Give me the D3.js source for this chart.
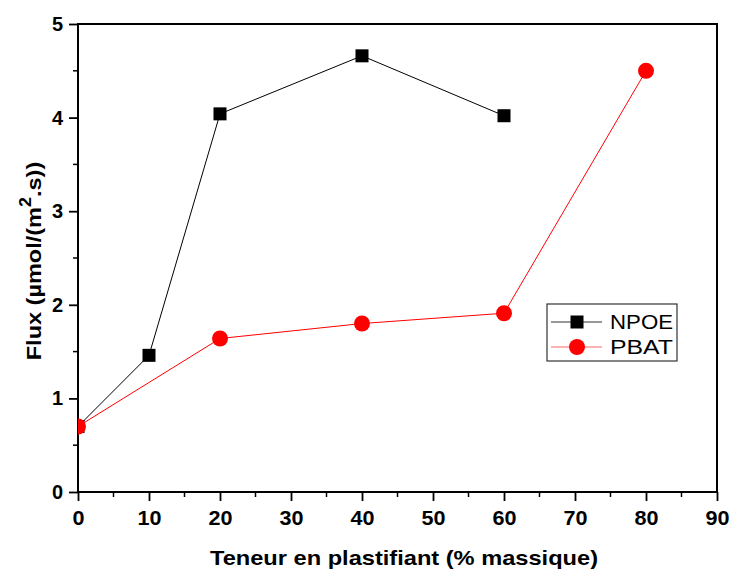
<!DOCTYPE html>
<html lang="fr">
<head>
<meta charset="UTF-8">
<title>Flux vs teneur en plastifiant</title>
<script src="https://d3js.org/d3.v7.min.js"></script>
<style>
  body { margin: 0; background: #fff; }
  svg { font-family: "Liberation Sans", Arial, sans-serif; }
  .domain { display: none; }
</style>
</head>
<body>
<svg id="chart" width="730" height="569"></svg>
<script>
  // Data
  const npoeX = [0, 10, 20, 40, 60];
  const npoeY = [0.70, 1.46, 4.04, 4.66, 4.02];
  const pbatX = [0, 20, 40, 60, 80];
  const pbatY = [0.70, 1.64, 1.80, 1.91, 4.50];
  const xTicks = [0, 10, 20, 30, 40, 50, 60, 70, 80, 90];
  const yTicks = [0, 1, 2, 3, 4, 5];

  const margin = { top: 24, right: 13, bottom: 77, left: 78 };
  const width = 730, height = 569;
  const svg = d3.select("#chart");

  const x = d3.scaleLinear().domain([0, 90]).range([margin.left, width - margin.right]);
  const y = d3.scaleLinear().domain([0, 5]).range([height - margin.bottom, margin.top]);

  svg.append("defs").append("clipPath").attr("id", "plot-clip")
    .append("rect")
    .attr("x", x(0)).attr("y", y(5))
    .attr("width", x(90) - x(0)).attr("height", y(0) - y(5));

  // minor ticks
  const xMinor = d3.range(5, 90, 10);
  const yMinor = d3.range(0.5, 5, 1);
  svg.append("g").selectAll("line").data(xMinor).join("line")
    .attr("x1", d => x(d)).attr("x2", d => x(d))
    .attr("y1", y(0)).attr("y2", y(0) + 5)
    .attr("stroke", "#000").attr("stroke-width", 1.5);
  svg.append("g").selectAll("line").data(yMinor).join("line")
    .attr("x1", x(0) - 5).attr("x2", x(0))
    .attr("y1", d => y(d)).attr("y2", d => y(d))
    .attr("stroke", "#000").attr("stroke-width", 1.5);

  // axes
  const xAxis = svg.append("g")
    .attr("transform", `translate(0,${y(0)})`)
    .call(d3.axisBottom(x).tickValues(xTicks).tickFormat(d3.format("d")).tickSize(9).tickPadding(10));
  xAxis.selectAll(".tick line").attr("stroke-width", 1.8);
  xAxis.selectAll(".tick text").attr("font-size", 20).attr("font-weight", "bold").attr("fill", "#000")
    .attr("transform", "scale(1.08,1)");

  const yAxis = svg.append("g")
    .attr("transform", `translate(${x(0)},0)`)
    .call(d3.axisLeft(y).tickValues(yTicks).tickFormat(d3.format("d")).tickSize(9).tickPadding(6));
  yAxis.selectAll(".tick line").attr("stroke-width", 1.8);
  yAxis.selectAll(".tick text").attr("font-size", 20).attr("font-weight", "bold").attr("fill", "#000");

  // frame
  svg.append("rect")
    .attr("x", x(0)).attr("y", y(5))
    .attr("width", x(90) - x(0)).attr("height", y(0) - y(5))
    .attr("fill", "none").attr("stroke", "#000").attr("stroke-width", 2);

  const plot = svg.append("g").attr("clip-path", "url(#plot-clip)");
  const line = d3.line().x(d => x(d[0])).y(d => y(d[1]));

  const npoe = npoeX.map((v, i) => [v, npoeY[i]]);
  const pbat = pbatX.map((v, i) => [v, pbatY[i]]);

  plot.append("path").datum(npoe).attr("d", line)
    .attr("fill", "none").attr("stroke", "#000").attr("stroke-width", 1);
  plot.selectAll("rect.npoe").data(npoe).join("rect")
    .attr("class", "npoe")
    .attr("x", d => x(d[0]) - 6.5).attr("y", d => y(d[1]) - 6.5)
    .attr("width", 13).attr("height", 13).attr("fill", "#000");

  plot.append("path").datum(pbat).attr("d", line)
    .attr("fill", "none").attr("stroke", "#ff0000").attr("stroke-width", 1);
  plot.selectAll("circle.pbat").data(pbat).join("circle")
    .attr("class", "pbat")
    .attr("cx", d => x(d[0])).attr("cy", d => y(d[1]))
    .attr("r", 8).attr("fill", "#ff0000");

  // legend
  const legend = svg.append("g").attr("transform", "translate(547,304)");
  legend.append("rect").attr("width", 130).attr("height", 57)
    .attr("fill", "#fff").attr("stroke", "#333").attr("stroke-width", 1.2);
  const items = [
    { name: "NPOE", color: "#000", shape: "square", dy: 18 },
    { name: "PBAT", color: "#ff0000", shape: "circle", dy: 43 }
  ];
  items.forEach(it => {
    const g = legend.append("g").attr("transform", `translate(0,${it.dy})`);
    g.append("line").attr("x1", 4).attr("x2", 55).attr("y1", 0).attr("y2", 0)
      .attr("stroke", it.color).attr("stroke-width", 1).attr("opacity", it.shape === "circle" ? 0.6 : 0.8);
    if (it.shape === "square") {
      g.append("rect").attr("x", 23.5).attr("y", -6.5).attr("width", 13).attr("height", 13).attr("fill", it.color);
    } else {
      g.append("circle").attr("cx", 30).attr("cy", 0).attr("r", 8).attr("fill", it.color);
    }
    g.append("text").attr("x", 63).attr("y", 7).attr("font-size", 20)
      .attr("textLength", 63).attr("lengthAdjust", "spacingAndGlyphs").text(it.name);
  });

  // axis titles
  svg.append("text")
    .attr("x", 210).attr("y", 565)
    .attr("font-size", 21).attr("font-weight", "bold")
    .attr("textLength", 388).attr("lengthAdjust", "spacingAndGlyphs")
    .text("Teneur en plastifiant (% massique)");

  const yTitle = svg.append("text")
    .attr("transform", "translate(41,261) rotate(-90) scale(1.12,1)")
    .attr("text-anchor", "middle").attr("font-size", 21).attr("font-weight", "bold");
  yTitle.append("tspan").text("Flux (µmol/(m");
  yTitle.append("tspan").attr("dy", -10).attr("font-size", 16).text("2");
  yTitle.append("tspan").attr("dy", 10).text(".s))");
</script>
</body>
</html>
